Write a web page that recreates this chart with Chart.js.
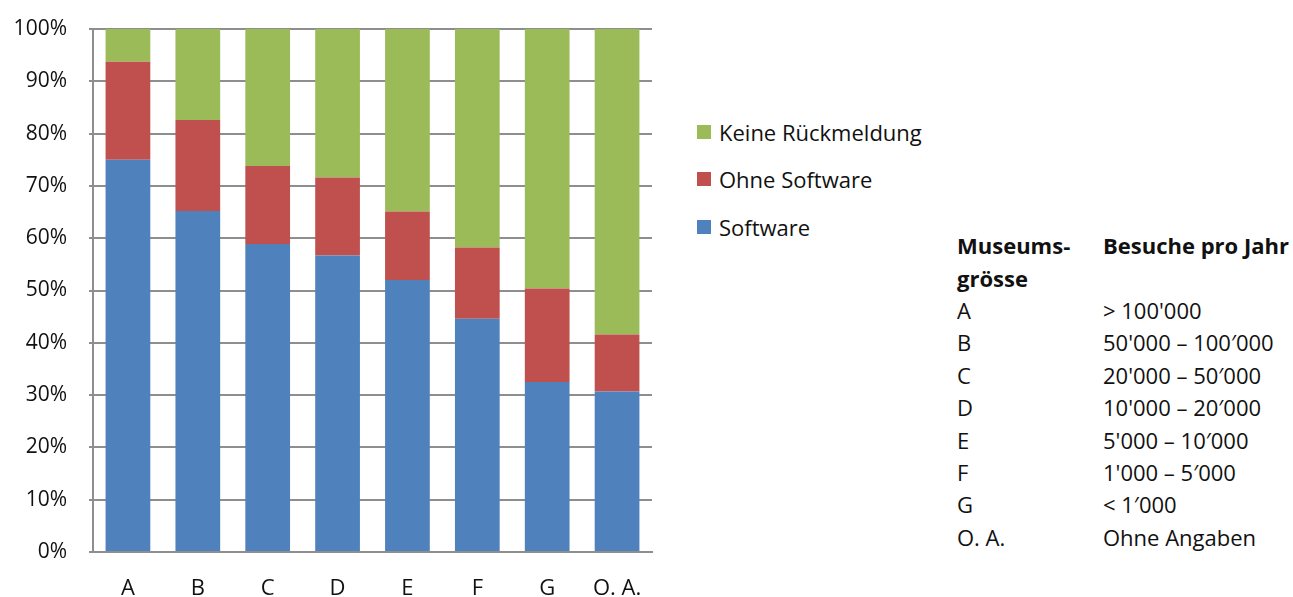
<!DOCTYPE html>
<html lang="de">
<head>
<meta charset="utf-8">
<title>Museen nach Grösse</title>
<script src="https://cdn.jsdelivr.net/npm/chart.js@4/dist/chart.umd.min.js"></script>
<style>
  html, body { margin: 0; padding: 0; background: #fff; }
  body { width: 1293px; height: 597px; position: relative; overflow: hidden;
         font-family: "Open Sans", "Noto Sans", sans-serif; color: #111; }
  #chartWrap { position: absolute; left: 0; top: 0; width: 680px; height: 597px; }
  #legend { position: absolute; left: 697px; top: 0; font-size: 22px; }
  .legend-item { position: absolute; left: 0; white-space: nowrap; display: flex; align-items: center; }
  .legend-box { width: 14px; height: 14px; margin-right: 8px; }
  #sizeTable { position: absolute; left: 957px; top: 0; font-size: 22px; }
  .row { position: absolute; white-space: nowrap; line-height: 26px; transform: translateY(-13px); }
  .bold { font-weight: bold; }
</style>
</head>
<body>
<div id="chartWrap"><canvas id="shareChart"></canvas></div>
<div id="legend"></div>
<div id="sizeTable"></div>

<script>
// Museumsgrösse categories
const categories = ["A", "B", "C", "D", "E", "F", "G", "O. A."];

// Shares in percent
const software = [75.0, 65.2, 58.9, 56.7, 52.0, 44.6, 32.5, 30.7];
const ohneSoftware = [18.75, 17.4, 14.9, 14.9, 13.1, 13.6, 17.9, 10.9];
const keineRueckmeldung = [6.25, 17.4, 26.2, 28.4, 34.9, 41.8, 49.6, 58.4];

const yTicks = [0, 10, 20, 30, 40, 50, 60, 70, 80, 90, 100];

// Table on the right
const sizeClasses = ["A", "B", "C", "D", "E", "F", "G", "O. A."];
const visitsPerYear = [
  "> 100'000",
  "50'000 – 100′000",
  "20'000 – 50′000",
  "10'000 – 20′000",
  "5'000 – 10′000",
  "1'000 – 5′000",
  "< 1′000",
  "Ohne Angaben",
];

const COLORS = {
  software: "#4F81BD",
  ohne: "#C0504D",
  keine: "#9BBB59",
  grid: "#8e8e8e",
  text: "#111111",
};

let shareChart = null;

function initChart() {
  const ctx = document.getElementById("shareChart").getContext("2d");
  shareChart = new Chart(ctx, {
    type: "bar",
    data: {
      labels: categories,
      datasets: [
        { label: "Software", data: software, backgroundColor: COLORS.software },
        { label: "Ohne Software", data: ohneSoftware, backgroundColor: COLORS.ohne },
        { label: "Keine Rückmeldung", data: keineRueckmeldung, backgroundColor: COLORS.keine },
      ],
    },
    options: {
      responsive: true,
      maintainAspectRatio: false,
      animation: false,
      layout: { padding: { top: 29, right: 28, bottom: 0, left: 0 } },
      datasets: {
        bar: { categoryPercentage: 0.64, barPercentage: 1.0, borderWidth: 0 },
      },
      scales: {
        x: {
          stacked: true,
          grid: { display: false, drawTicks: false },
          border: { display: true, color: COLORS.grid, width: 2 },
          ticks: {
            color: COLORS.text,
            padding: 24,
            font: { family: "Open Sans", size: 22 },
            maxRotation: 0,
          },
          afterFit: (scale) => { scale.height = 45; },
        },
        y: {
          stacked: true,
          min: 0,
          max: 100,
          afterBuildTicks: (scale) => {
            scale.ticks = yTicks.map((v) => ({ value: v }));
          },
          grid: { color: COLORS.grid, lineWidth: 2, tickLength: 4 },
          border: { display: true, color: COLORS.grid, width: 2 },
          ticks: {
            color: COLORS.text,
            padding: 22,
            font: { family: "Open Sans", size: 21 },
            callback: (v) => `${v}%`,
          },
          afterFit: (scale) => {
            // fixed axis width; don't let tick padding push the plot down
            scale.width = 93;
            scale.paddingTop = 13;
            scale.paddingBottom = 13;
          },
        },
      },
      plugins: {
        legend: { display: false },
        tooltip: { enabled: false },
      },
    },
  });
}

function buildLegend() {
  const el = document.getElementById("legend");
  const centers = [132, 179, 227];
  // top to bottom: reverse of stacking order
  const items = [...shareChart.data.datasets].reverse();
  el.innerHTML = items
    .map(
      (ds, i) => `
    <div class="legend-item" style="top:${centers[i] - 15}px;height:30px">
      <span class="legend-box" style="background:${ds.backgroundColor}"></span>${ds.label}
    </div>`
    )
    .join("");
}

function buildTable() {
  const el = document.getElementById("sizeTable");
  const col2 = 1103 - 957;
  let html = `
    <div class="row bold" style="top:245px;left:0">Museums-</div>
    <div class="row bold" style="top:245px;left:${col2}px">Besuche pro Jahr</div>
    <div class="row bold" style="top:278px;left:0">grösse</div>`;
  sizeClasses.forEach((c, i) => {
    const y = 310 + i * 32.4;
    html += `
    <div class="row" style="top:${y}px;left:0">${c}</div>
    <div class="row" style="top:${y}px;left:${col2}px">${visitsPerYear[i].replace("<", "&lt;").replace(">", "&gt;")}</div>`;
  });
  el.innerHTML = html;
}

document.addEventListener("DOMContentLoaded", () => {
  initChart();
  buildLegend();
  buildTable();
});
</script>
</body>
</html>
